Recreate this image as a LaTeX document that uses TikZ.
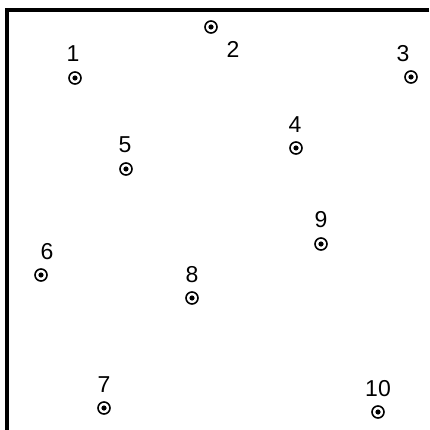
\documentclass[tikz,border=0pt]{standalone}
\usepackage{fontspec}
\setmainfont{Liberation Sans}
\tikzset{
  site/.style={circle, draw, line width=1.6pt, minimum size=12pt, inner sep=0pt,
    path picture={\fill (path picture bounding box.center) circle (2.6pt);}},
  tag/.style={font=\fontsize{23}{26}\selectfont, inner sep=0pt}
}

\begin{document}
\begin{tikzpicture}[x=1pt,y=-1pt]
\useasboundingbox (0,0) rectangle (429,430);
\coordinate (tr) at (429,10);
\coordinate (tl) at (7,10);
\coordinate (bl) at (7,430);
\draw [line width=3.5pt] (tr) -- (tl) -- (bl);
\node at (75,78) [site] (p1) {};
\node at (73,54) [tag] (t1) {1};
\node at (211,27) [site] (p2) {};
\node at (233,49) [tag] (t2) {2};
\node at (411,77) [site] (p3) {};
\node at (403,54) [tag] (t3) {3};
\node at (296,148) [site] (p4) {};
\node at (295,125) [tag] (t4) {4};
\node at (126,169) [site] (p5) {};
\node at (125,145) [tag] (t5) {5};
\node at (41,275) [site] (p6) {};
\node at (47,252) [tag] (t6) {6};
\node at (104,408) [site] (p7) {};
\node at (104,385) [tag] (t7) {7};
\node at (192,298) [site] (p8) {};
\node at (192,275) [tag] (t8) {8};
\node at (321,244) [site] (p9) {};
\node at (321,220) [tag] (t9) {9};
\node at (378,412) [site] (p10) {};
\node at (378,389) [tag] (t10) {10};
\end{tikzpicture}
\end{document}
